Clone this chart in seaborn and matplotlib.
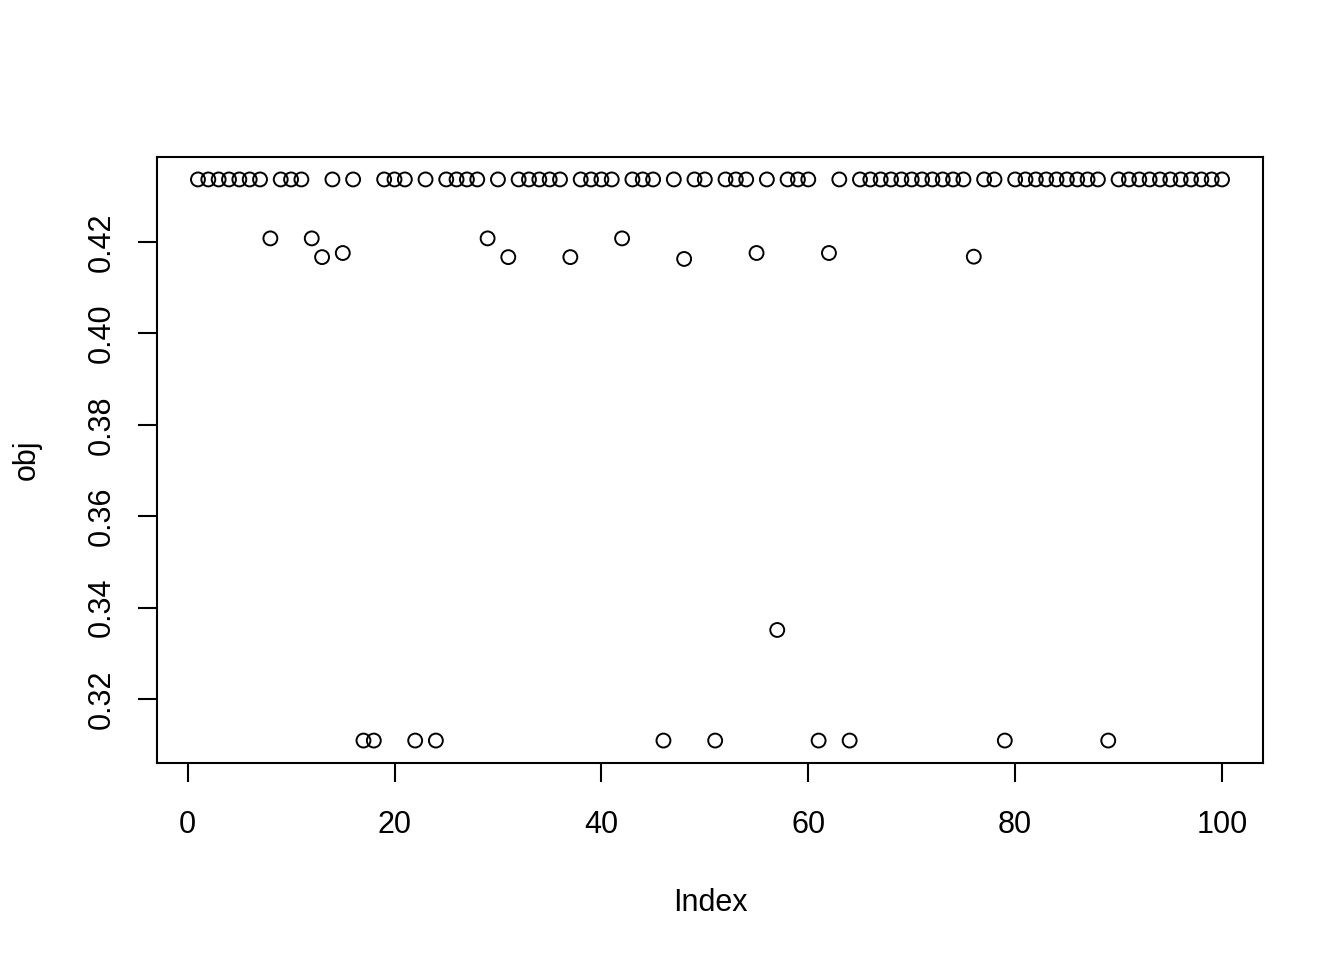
import numpy as np
import pandas as pd
import matplotlib
matplotlib.use("Agg")
import matplotlib.pyplot as plt
import seaborn as sns

sns.set_style("ticks")
plt.rcParams['font.family'] = ['Liberation Sans', 'DejaVu Sans']
plt.rcParams['text.color'] = 'black'
plt.rcParams['xtick.color'] = 'black'
plt.rcParams['ytick.color'] = 'black'
plt.rcParams['axes.labelcolor'] = 'black'

# values (index 1..100)
top = 0.4337
special = {
    8: 0.4208, 12: 0.4208, 13: 0.4167, 15: 0.4176, 17: 0.3109, 18: 0.3109,
    22: 0.3109, 24: 0.3109, 29: 0.4208, 31: 0.4167, 37: 0.4167, 42: 0.4208,
    46: 0.3109, 48: 0.4163, 51: 0.3109, 55: 0.4176, 57: 0.3351, 61: 0.3109,
    62: 0.4176, 64: 0.3109, 76: 0.4168, 79: 0.3109, 89: 0.3109,
}
index = list(range(1, 101))
obj = [special.get(i, top) for i in index]
df = pd.DataFrame({"Index": index, "obj": obj})

fig = plt.figure(figsize=(13.44, 9.6), dpi=100)
ax = fig.add_axes([157/1344, 1 - 763/960, (1263 - 157)/1344, (763 - 157)/960])

sns.scatterplot(data=df, x="Index", y="obj", ax=ax, marker="o", s=100,
                facecolor="none", edgecolor="black", linewidth=1.4)

ax.set_xlim(1 - 0.04 * 99, 100 + 0.04 * 99)
rng = max(obj) - min(obj)
ax.set_ylim(min(obj) - 0.04 * rng, max(obj) + 0.04 * rng)
ax.set_xticks([0, 20, 40, 60, 80, 100])
ax.set_yticks([0.32, 0.34, 0.36, 0.38, 0.40, 0.42])
ax.set_yticklabels(["0.32", "0.34", "0.36", "0.38", "0.40", "0.42"],
                   rotation=90, va="center")
ax.tick_params(labelsize=22, length=14, width=1.5)
ax.tick_params(axis="x", pad=20)
ax.tick_params(axis="y", pad=15)
for s in ax.spines.values():
    s.set_visible(True)
    s.set_linewidth(1.5)
    s.set_color("black")
ax.set_xlabel("Index", fontsize=22)
ax.set_ylabel("obj", fontsize=22)
ax.xaxis.set_label_coords(0.5, -0.206)
ax.yaxis.set_label_coords(-0.104, 0.5)

fig.savefig("out.png", dpi=100)
